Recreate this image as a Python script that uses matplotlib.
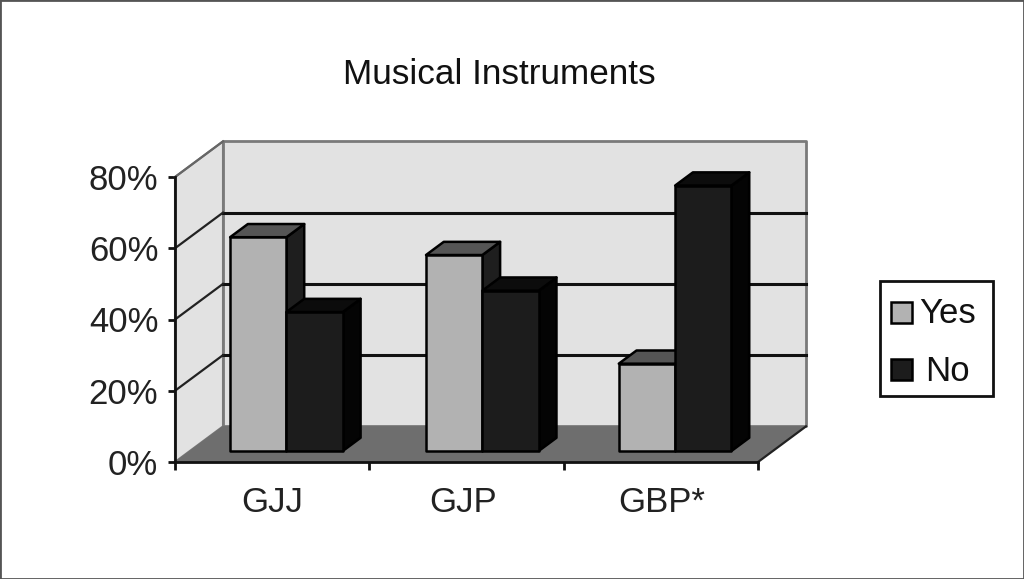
import matplotlib
matplotlib.use('Agg')
import matplotlib.pyplot as plt
from matplotlib.patches import Polygon, Rectangle

plt.rcParams['font.family'] = ['Liberation Sans', 'DejaVu Sans']

# Values
groups = ['GJJ', 'GJP', 'GBP*']
yes_values = [60, 55, 24.5]
no_values = [39, 45, 74.5]
y_ticks = [0, 20, 40, 60, 80]
y_labels = ['0%', '20%', '40%', '60%', '80%']
legend_labels = ['Yes', 'No']

# Depth of the fake 3D box, in data units
DEPTH_X = 0.247
DEPTH_Y = 10.0
BAR_FRONT = 0.31
BAR_BACK = 0.68
BAR_START = [0.207, 1.215, 2.207]
BAR_WIDTH = 0.29
YES_COLOR = '#b2b2b2'
NO_COLOR = '#1c1c1c'


def proj(x, y, d):
    return (x + d * DEPTH_X, y + d * DEPTH_Y)


fig = plt.figure(figsize=(10.24, 5.79), dpi=100, facecolor='white')
ax = fig.add_axes([175 / 1024, (579 - 462) / 579, 583 / 1024, 285 / 579])
ax.set_xlim(0, 3)
ax.set_ylim(0, 80)
ax.patch.set_visible(False)


def face(points, color, edge='black', lw=1.8, z=2):
    ax.add_patch(Polygon(points, closed=True, facecolor=color, edgecolor=edge,
                         linewidth=lw, joinstyle='round', clip_on=False, zorder=z))


# Back wall, side wall and floor
face([proj(0, 0, 1), proj(3, 0, 1), proj(3, 80, 1), proj(0, 80, 1)], '#e2e2e2', '#7a7a7a', 2.0, 1)
face([proj(0, 0, 0), proj(0, 0, 1), proj(0, 80, 1), proj(0, 80, 0)], '#e2e2e2', '#7a7a7a', 1.5, 1)
face([proj(0, 0, 0), proj(3, 0, 0), proj(3, 0, 1), proj(0, 0, 1)], '#6e6e6e', '#6e6e6e', 0.5, 1.5)

# Gridlines on the walls
for v in y_ticks[1:-1]:
    ax.plot(*zip(proj(0, v, 1), proj(3, v, 1)), color='#111111', lw=2.2, clip_on=False, zorder=1.6)
for v in y_ticks[1:]:
    ax.plot(*zip(proj(0, v, 0), proj(0, v, 1)), color='#222222' if v < 80 else '#666666',
            lw=1.6, clip_on=False, zorder=1.6)
ax.plot(*zip(proj(3, 0, 0), proj(3, 0, 1)), color='#222222', lw=1.6, clip_on=False, zorder=1.6)


def draw_bar(x0, value, front, top, side):
    x1 = x0 + BAR_WIDTH
    face([proj(x1, 0, BAR_FRONT), proj(x1, 0, BAR_BACK), proj(x1, value, BAR_BACK), proj(x1, value, BAR_FRONT)], side)
    face([proj(x0, value, BAR_FRONT), proj(x1, value, BAR_FRONT), proj(x1, value, BAR_BACK), proj(x0, value, BAR_BACK)], top)
    face([proj(x0, 0, BAR_FRONT), proj(x1, 0, BAR_FRONT), proj(x1, value, BAR_FRONT), proj(x0, value, BAR_FRONT)], front)


for i in range(len(groups)):
    x0 = BAR_START[i]
    draw_bar(x0, yes_values[i], YES_COLOR, '#555555', '#1e1e1e')
    draw_bar(x0 + BAR_WIDTH, no_values[i], NO_COLOR, '#0c0c0c', '#040404')

# Axes, ticks and labels
for name in ['top', 'right']:
    ax.spines[name].set_visible(False)
for name in ['left', 'bottom']:
    ax.spines[name].set_linewidth(2.0)
    ax.spines[name].set_color('#111111')
    ax.spines[name].set_zorder(5)

ax.set_yticks(y_ticks)
ax.set_yticklabels(y_labels, fontsize=25, color='#222222')
ax.tick_params(axis='y', length=5, width=2, pad=7, color='#111111')
ax.set_xticks([0, 1, 2, 3])
ax.set_xticklabels([])
ax.tick_params(axis='x', which='major', length=6, width=2, color='#111111')
ax.set_xticks([0.5, 1.48, 2.505], minor=True)
ax.set_xticklabels(groups, minor=True, fontsize=25, color='#222222')
ax.tick_params(axis='x', which='minor', length=0, pad=17)

fig.text(499 / 1024, 1 - 75 / 579, 'Musical Instruments', ha='center', va='center', fontsize=25.3, color='#111111')


# Legend drawn by hand, the No label sits a little right of Yes in the original
def fig_rect(left, top, w, h, **kw):
    fig.add_artist(Rectangle((left / 1024, 1 - (top + h) / 579), w / 1024, h / 579,
                             transform=fig.transFigure, **kw))


fig_rect(880, 281, 113, 115, facecolor='white', edgecolor='#111111', linewidth=2.0)
fig_rect(891, 302, 21, 21, facecolor=YES_COLOR, edgecolor='black', linewidth=1.8)
fig_rect(891, 359, 21, 21, facecolor=NO_COLOR, edgecolor='black', linewidth=1.8)
fig.text(919 / 1024, 1 - 323 / 579, legend_labels[0], fontsize=25, va='baseline', color='#111111')
fig.text(925 / 1024, 1 - 381 / 579, legend_labels[1], fontsize=25, va='baseline', color='#111111')

# Outer picture border
fig_rect(0, 0, 1024, 579, fill=False, edgecolor='#555555', linewidth=2)

fig.savefig('out.png', dpi=100)
